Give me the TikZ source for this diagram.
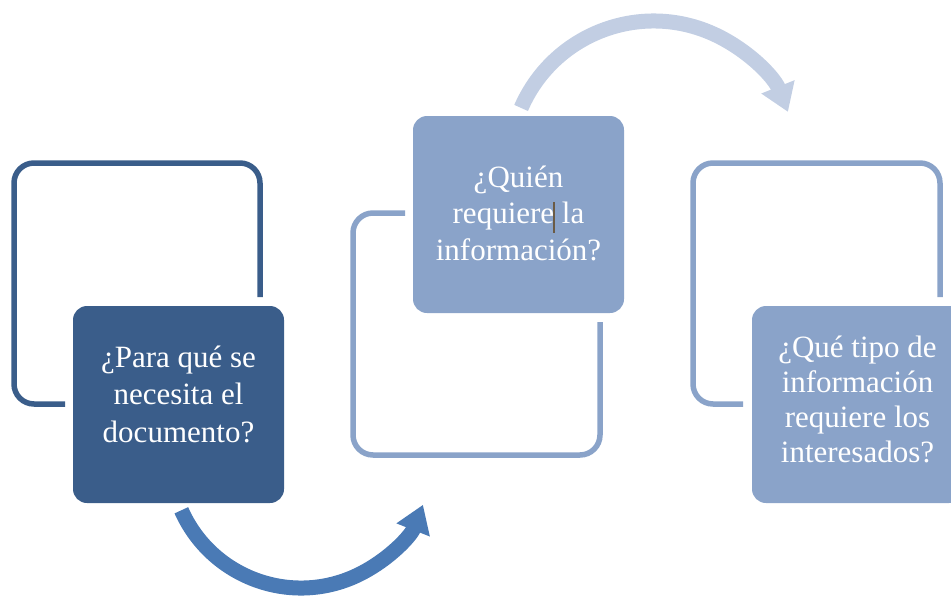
\documentclass[tikz,border=0pt]{standalone}
\usepackage{fontspec}
\setmainfont{Liberation Serif}
\usetikzlibrary{arrows.meta}
\definecolor{darkblue}{HTML}{3A5D8A}
\definecolor{arrowblue}{HTML}{4A7AB5}
\definecolor{midblue}{HTML}{8AA3C9}
\definecolor{paleblue}{HTML}{C2CEE3}
\definecolor{cursorc}{HTML}{6B5B45}
\begin{document}
\begin{tikzpicture}[x=1pt,y=-1pt,
  qbox/.style={rectangle, rounded corners=14pt, draw=none, inner sep=0pt,
               minimum width=211pt, minimum height=197pt},
  frame/.style={line width=5.5pt, rounded corners=20pt},
  curvearrow/.style={line width=15pt, -{Triangle[width=34pt,length=27pt]}},
  qtext/.style={anchor=base, inner sep=0pt, text=white},
]
\useasboundingbox (0,0) rectangle (951,595);
\clip (0,0) rectangle (951,595);

% frames (outlines)
\draw[frame, draw=darkblue] (260,297) -- (260,163) -- (14,163) -- (14,404) -- (65,404);
\draw[frame, draw=midblue] (405,213) -- (353,213) -- (353,455) -- (600,455) -- (600,322);
\draw[frame, draw=midblue] (940,297) -- (940,163) -- (693,163) -- (693,404) -- (743,404);

% arrows
\draw[curvearrow, draw=arrowblue] (301,457) ++(156:131) coordinate (a1s)
   arc[start angle=156, end angle=21.4, radius=131];
\draw[curvearrow, draw=paleblue] (653.7,165.6) ++(203.5:144.6) coordinate (a2s)
   arc[start angle=203.5, end angle=338.2, radius=144.6];

% boxes
\node[qbox, fill=darkblue] (b1) at (178.5,404.5) {};
\node[qbox, fill=midblue] (b2) at (518.5,214.5) {};
\node[qbox, fill=midblue] (b3) at (857.5,404.5) {};

% texts
\node[qtext, font=\fontsize{31}{37.5}\selectfont] (t1) at (178.5,367)
  {\begin{tabular}[t]{@{}c@{}}¿Para qué se\\necesita el\\documento?\end{tabular}};
\node[qtext, font=\fontsize{31}{36.5}\selectfont] (t2) at (518.5,187)
  {\begin{tabular}[t]{@{}c@{}}¿Quién\\requiere la\\información?\end{tabular}};
\node[qtext, font=\fontsize{31}{35.3}\selectfont] (t3) at (857.5,357)
  {\begin{tabular}[t]{@{}c@{}}¿Qué tipo de\\información\\requiere los\\interesados?\end{tabular}};

% text cursor mark
\coordinate (c1) at (554,202);
\coordinate (c2) at (554,233);
\draw[line width=1.3pt, draw=cursorc] (c1) -- (c2);
\end{tikzpicture}
\end{document}
